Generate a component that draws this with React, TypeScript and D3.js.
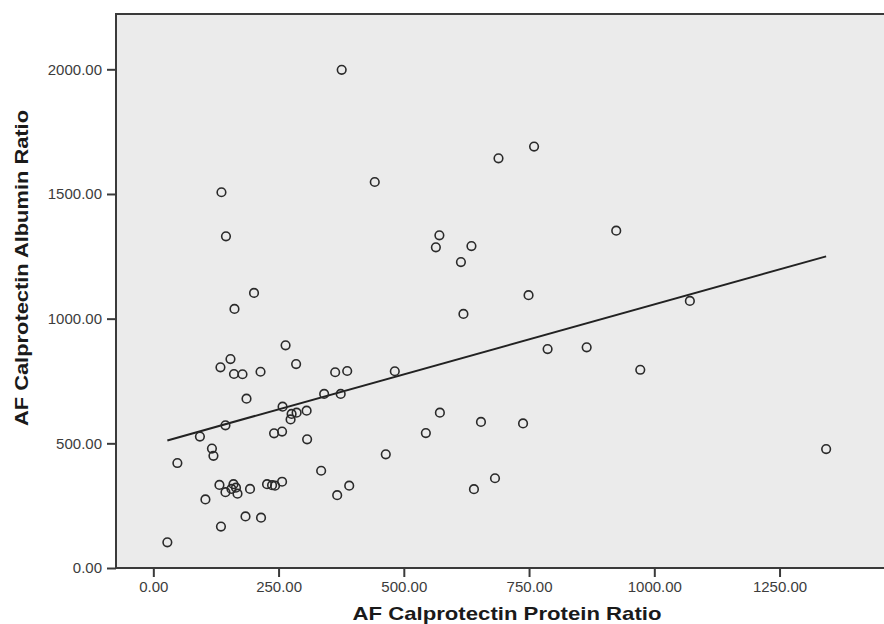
import React, { useEffect, useRef } from "react";
import * as d3 from "d3";

// AF Calprotectin Protein Ratio (x) and AF Calprotectin Albumin Ratio (y)
const proteinRatio = [
  376, 442, 136, 145, 201, 162, 760, 689, 924, 571, 564, 635, 614, 749, 619, 1071,
  264, 154, 285, 134, 161, 178, 214, 363, 387, 482, 787, 865, 972, 186, 341, 374,
  258, 276, 286, 274, 306, 144, 93, 241, 257, 307, 117, 120, 48, 464, 335, 132,
  160, 144, 156, 168, 165, 193, 227, 237, 243, 257, 391, 367, 104, 184, 215, 135,
  28, 572, 544, 654, 738, 682, 640, 1343,
];
const albuminRatio = [
  1998, 1548, 1507, 1330, 1103, 1039, 1690, 1643, 1353, 1334, 1286, 1291, 1227, 1094, 1019, 1071,
  893, 838, 818, 805, 778, 777, 787, 785, 790, 789, 878, 885, 795, 679, 698, 698,
  647, 618, 623, 596, 631, 572, 527, 540, 547, 516, 479, 450, 421, 456, 390, 333,
  336, 304, 317, 298, 322, 317, 336, 332, 330, 346, 330, 292, 275, 207, 202, 166,
  103, 623, 541, 586, 580, 360, 316, 477,
];
const xTicks = [0, 250, 500, 750, 1000, 1250];
const yTicks = [0, 500, 1000, 1500, 2000];

const W = 884;
const H = 624;

export default function App() {
  const ref = useRef<SVGSVGElement>(null);

  useEffect(() => {
    const svg = d3.select(ref.current);
    svg.selectAll("*").remove();

    const left = 116, top = 14, bottom = 568, right = 884;
    const x = d3.scaleLinear().domain([-74.5, 1458.5]).range([left, right]);
    const y = d3.scaleLinear().domain([0, 2221.8]).range([bottom, top]);
    const font = "'Liberation Sans', Arial, sans-serif";

    // plot background
    svg.append("rect")
      .attr("x", left).attr("y", top)
      .attr("width", right - left).attr("height", bottom - top)
      .attr("fill", "#ebebeb");

    // frame (top + left + bottom, no right edge visible)
    svg.append("path")
      .attr("d", `M${right},${top}H${left}V${bottom}H${right}`)
      .attr("fill", "none")
      .attr("stroke", "#3a3a3a")
      .attr("stroke-width", 2);

    const fmt = d3.format(".2f");

    const yAxis = svg.append("g")
      .attr("transform", `translate(${left},0)`)
      .call(d3.axisLeft(y).tickValues(yTicks).tickFormat((d: any) => fmt(d)).tickSize(9).tickPadding(5).tickSizeOuter(0));
    const xAxis = svg.append("g")
      .attr("transform", `translate(0,${bottom})`)
      .call(d3.axisBottom(x).tickValues(xTicks).tickFormat((d: any) => fmt(d)).tickSize(9).tickPadding(4).tickSizeOuter(0));

    [yAxis, xAxis].forEach((ax) => {
      ax.select(".domain").remove();
      ax.selectAll(".tick line").attr("stroke", "#3a3a3a").attr("stroke-width", 2);
      ax.selectAll(".tick text")
        .attr("fill", "#3c3c3c")
        .style("font-family", font)
        .style("font-size", "15px");
    });

    // least squares fit line
    const n = proteinRatio.length;
    const mx = d3.mean(proteinRatio)!, my = d3.mean(albuminRatio)!;
    let sxy = 0, sxx = 0;
    for (let i = 0; i < n; i++) {
      sxy += (proteinRatio[i] - mx) * (albuminRatio[i] - my);
      sxx += (proteinRatio[i] - mx) ** 2;
    }
    const slope = sxy / sxx;
    const icept = my - slope * mx;
    const [x0, x1] = d3.extent(proteinRatio) as [number, number];
    const line = d3.line<number>().x((d) => x(d)).y((d) => y(icept + slope * d));
    svg.append("path")
      .attr("d", line([x0, x1]))
      .attr("fill", "none")
      .attr("stroke", "#222")
      .attr("stroke-width", 2);

    // points
    svg.append("g").selectAll("circle")
      .data(proteinRatio)
      .enter().append("circle")
      .attr("cx", (d) => x(d))
      .attr("cy", (d, i) => y(albuminRatio[i]))
      .attr("r", 4.3)
      .attr("fill", "none")
      .attr("stroke", "#2a2a2a")
      .attr("stroke-width", 1.6);

    // axis titles
    svg.append("text")
      .attr("x", 507).attr("y", 620)
      .attr("text-anchor", "middle")
      .attr("textLength", 309).attr("lengthAdjust", "spacingAndGlyphs")
      .style("font-family", font).style("font-weight", "bold").style("font-size", "19px")
      .attr("fill", "#1a1a1a")
      .text("AF Calprotectin Protein Ratio");

    svg.append("text")
      .attr("transform", "translate(28,268) rotate(-90)")
      .attr("text-anchor", "middle")
      .attr("textLength", 316).attr("lengthAdjust", "spacingAndGlyphs")
      .style("font-family", font).style("font-weight", "bold").style("font-size", "19px")
      .attr("fill", "#1a1a1a")
      .text("AF Calprotectin Albumin Ratio");
  }, []);

  return (
    <svg ref={ref} width={W} height={H}
      style={{ position: "absolute", left: 0, top: 0, background: "#fff" }} />
  );
}
